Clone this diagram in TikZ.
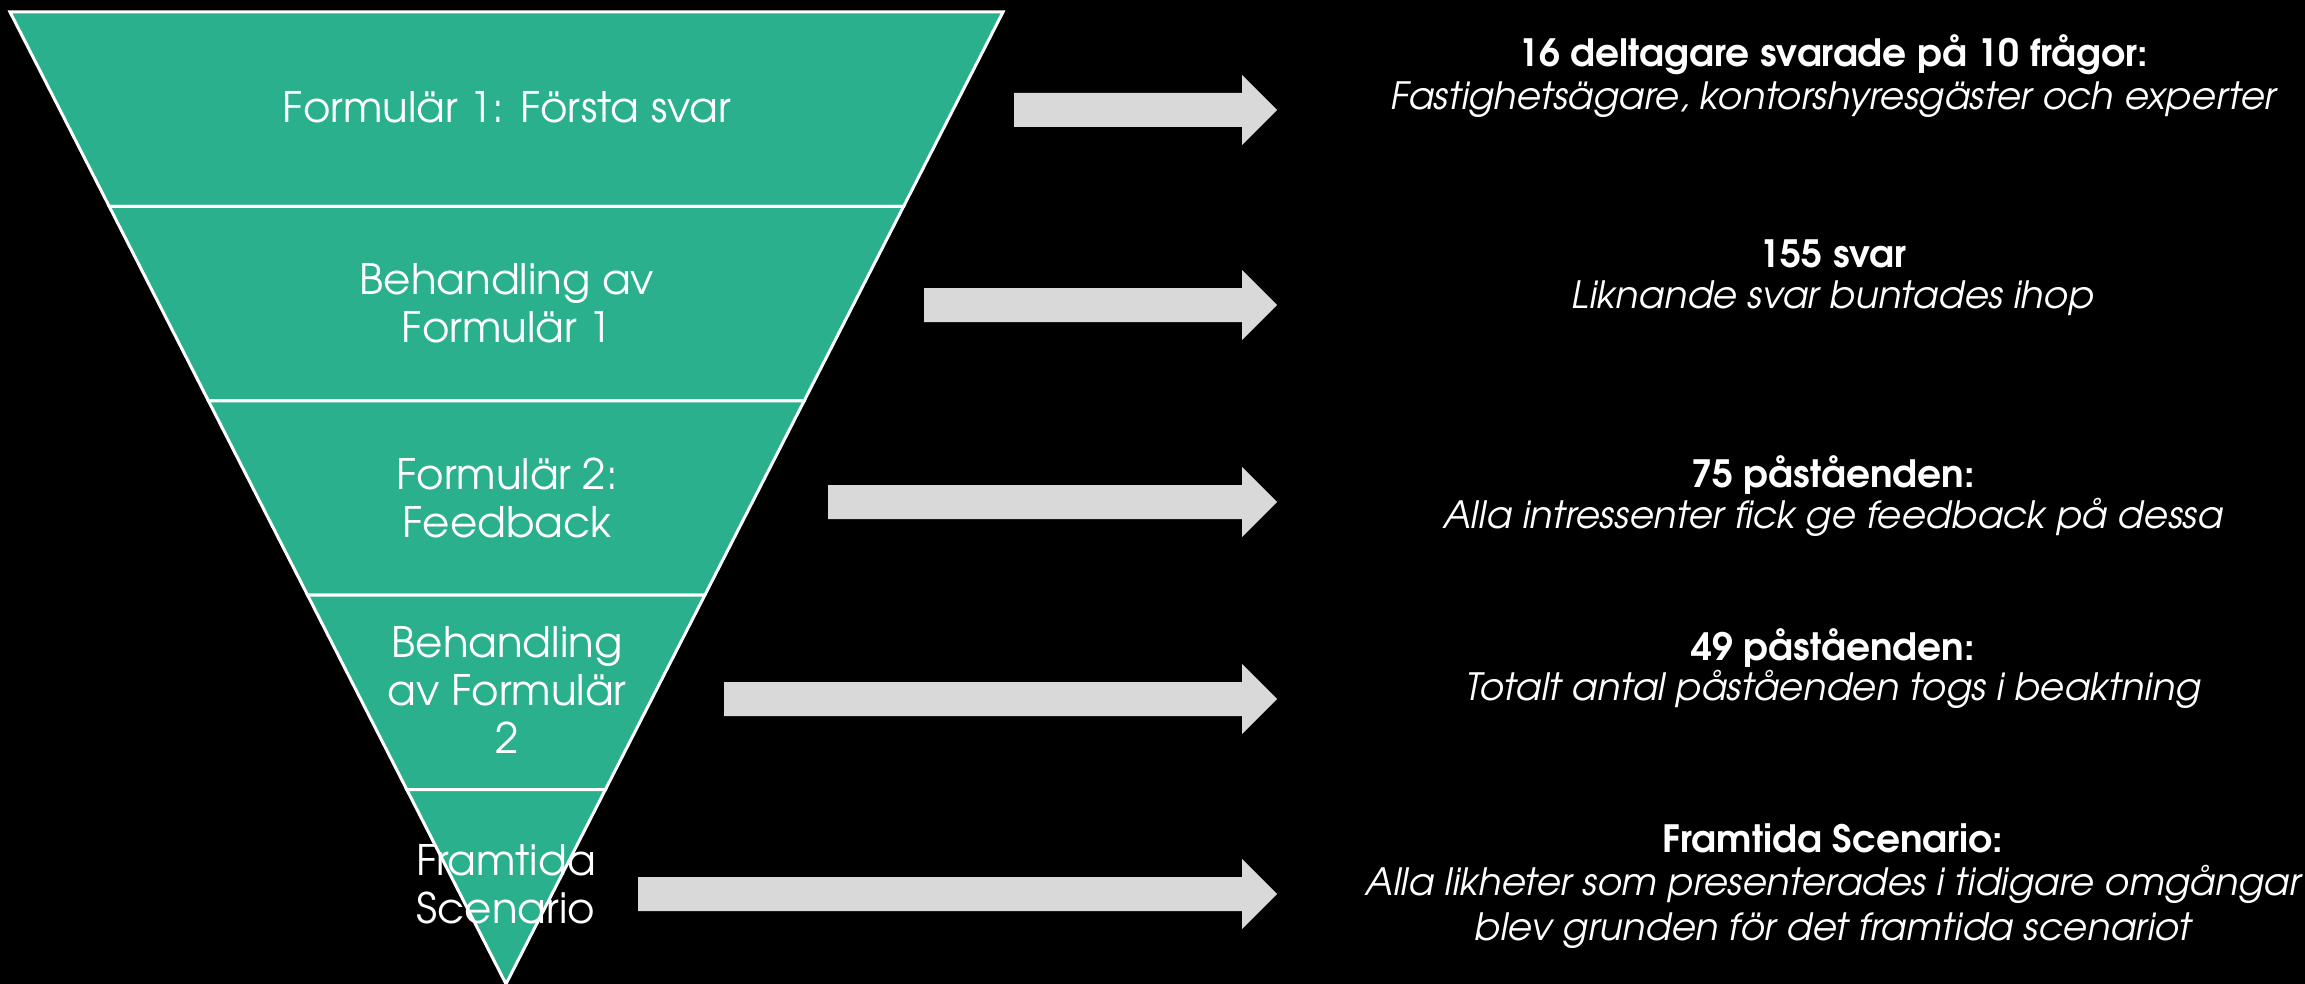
\documentclass[tikz,border=0pt]{standalone}
\usepackage{fontspec}
\setmainfont{TeX Gyre Adventor}
\usepackage{xcolor}
\usetikzlibrary{calc}

\definecolor{funnelgreen}{RGB}{43,176,142}
\definecolor{arrowgrey}{RGB}{217,217,217}

\tikzset{
  layer/.style={fill=funnelgreen, draw=white, line width=1.5pt},
  stage/.style={text=white, align=center, anchor=base, inner sep=0pt,
    font=\fontsize{21}{24}\selectfont},
  head/.style={text=white, anchor=base, inner sep=0pt,
    font=\bfseries\fontsize{18.8}{22}\selectfont},
  note/.style={text=white, align=center, anchor=base, inner sep=0pt,
    font=\itshape\fontsize{18.8}{22.5}\selectfont},
  pointer/.style={fill=arrowgrey}
}

\begin{document}
\begin{tikzpicture}[x=0.5pt,y=0.5pt,yscale=-1,xscale=1]
    %Background
    \fill[black] (0,0) rectangle (2305,984);
    \useasboundingbox (0,0) rectangle (2305,984);

    %Shape: Funnel, five equal layers
    \coordinate (tl) at (10,12);
    \coordinate (tr) at (1003,12);
    \coordinate (apex) at (506,984);
    \foreach \k [evaluate=\k as \a using (\k-1)/5, evaluate=\k as \b using \k/5] in {1,...,5}
      \filldraw[layer] ($(tl)!\a!(apex)$) -- ($(tr)!\a!(apex)$) -- ($(tr)!\b!(apex)$) -- ($(tl)!\b!(apex)$) -- cycle;

    %Shape: Block arrows
    \foreach \l/\c in {1014/110, 924/305, 828/502, 724/699, 638/894}
      \fill[pointer] (\l,\c-17) -- (1242,\c-17) -- (1242,\c-35) -- (1277,\c) -- (1242,\c+35) -- (1242,\c+17) -- (\l,\c+17) -- cycle;

    % Text Node (base = last line)
    \node[stage] (s1) at (507,123) {Formulär 1: Första svar};
    % Text Node
    \node[stage] (s2) at (507,342) {Behandling av\\Formulär 1};
    % Text Node
    \node[stage] (s3) at (507,537) {Formulär 2:\\Feedback};
    % Text Node
    \node[stage] (s4) at (507,753) {Behandling\\av Formulär\\2};
    % Text Node
    \node[stage] (s5) at (506,923) {Framtida\\Scenario};

    % Text Node
    \node[head] (h1) at (1833,67) {16 deltagare svarade på 10 frågor:};
    \node[note] (n1) at (1833,110) {Fastighetsägare, kontorshyresgäster och experter};
    % Text Node
    \node[head] (h2) at (1833,267) {155 svar};
    \node[note] (n2) at (1833,308) {Liknande svar buntades ihop};
    % Text Node
    \node[head] (h3) at (1833,487) {75 påståenden:};
    \node[note] (n3) at (1833,528) {Alla intressenter fick ge feedback på dessa};
    % Text Node
    \node[head] (h4) at (1833,660) {49 påståenden:};
    \node[note] (n4) at (1833,700) {Totalt antal påståenden togs i beaktning};
    % Text Node
    \node[head] (h5) at (1833,852) {Framtida Scenario:};
    \node[note] (n5) at (1833,940) {Alla likheter som presenterades i tidigare omgångar\\blev grunden för det framtida scenariot};

\end{tikzpicture}
\end{document}
